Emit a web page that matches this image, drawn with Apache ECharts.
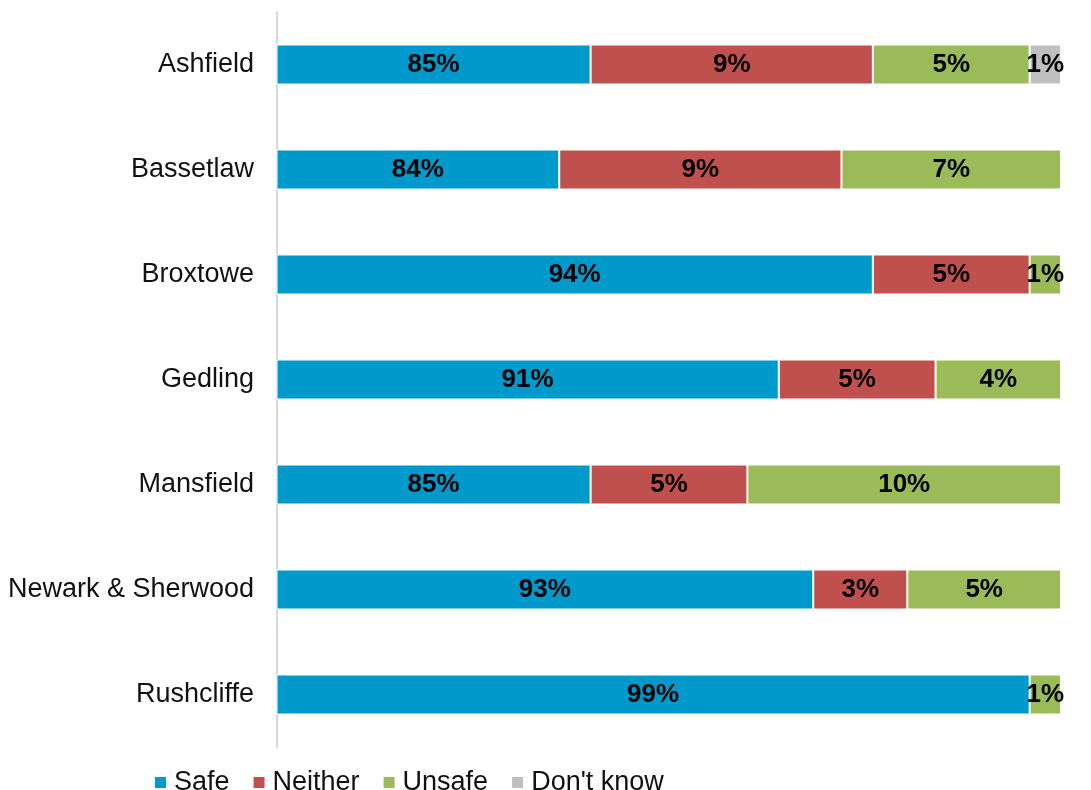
<!DOCTYPE html>
<html>
<head>
<meta charset="utf-8">
<script src="https://cdn.jsdelivr.net/npm/echarts@6/dist/echarts.min.js"></script>
<style>
  html, body { margin: 0; padding: 0; background: #fff; }
  #main { width: 1091px; height: 790px; }
</style>
</head>
<body>
<div id="main"></div>
<script>
  // districts, top to bottom
  var districts = ['Ashfield', 'Bassetlaw', 'Broxtowe', 'Gedling', 'Mansfield', 'Newark & Sherwood', 'Rushcliffe']

  // bar lengths as drawn (percent)
  var safe    = [85, 84, 94, 91, 85, 92.1, 99]
  var neither = [9, 9, 5, 5, 5, 3, null]
  var unsafe  = [5, 7, 1, 4, 10, 4.9, 1]
  var dontKnow = [1, null, null, null, null, null, null]

  // labels printed on the bars
  var safeLabels    = ['85%', '84%', '94%', '91%', '85%', '93%', '99%']
  var neitherLabels = ['9%', '9%', '5%', '5%', '5%', '3%', '']
  var unsafeLabels  = ['5%', '7%', '1%', '4%', '10%', '5%', '1%']
  var dkLabels      = ['1%', '', '', '', '', '', '']

  var font = 'Arial, "Liberation Sans", sans-serif'

  function makeSeries(name, data, labels, color) {
    return {
      name: name,
      type: 'bar',
      stack: 'total',
      barWidth: 40,
      data: data,
      itemStyle: {
        color: color,
        borderColor: '#ffffff',
        borderWidth: 1
      },
      label: {
        show: true,
        position: 'inside',
        color: '#000',
        fontFamily: font,
        fontWeight: 'bold',
        fontSize: 26,
        formatter: function (p) { return labels[p.dataIndex] }
      }
    }
  }

  var chart = echarts.init(document.getElementById('main'))
  chart.setOption({
    backgroundColor: '#ffffff',
    animation: false,
    grid: {
      left: 277,
      right: 30,
      top: 12,
      bottom: 43
    },
    legend: {
      top: 764,
      left: 150,
      icon: 'rect',
      itemWidth: 11,
      itemHeight: 11,
      itemGap: 24,
      itemStyle: { borderWidth: 0 },
      textStyle: {
        fontFamily: font,
        fontSize: 27,
        color: '#111',
        padding: [0, 0, 0, 3]
      },
      data: ['Safe', 'Neither', 'Unsafe', "Don't know"]
    },
    xAxis: {
      type: 'value',
      min: 75,
      max: 100,
      show: false
    },
    yAxis: {
      type: 'category',
      inverse: true,
      data: districts,
      axisTick: { show: false },
      axisLine: {
        lineStyle: { color: '#d9d9d9', width: 2 }
      },
      axisLabel: {
        margin: 23,
        fontFamily: font,
        fontSize: 27,
        color: '#111'
      }
    },
    series: [
      makeSeries('Safe', safe, safeLabels, '#0099cc'),
      makeSeries('Neither', neither, neitherLabels, '#c0504d'),
      makeSeries('Unsafe', unsafe, unsafeLabels, '#9bbb59'),
      makeSeries("Don't know", dontKnow, dkLabels, '#bfbfbf')
    ]
  })
</script>
</body>
</html>
